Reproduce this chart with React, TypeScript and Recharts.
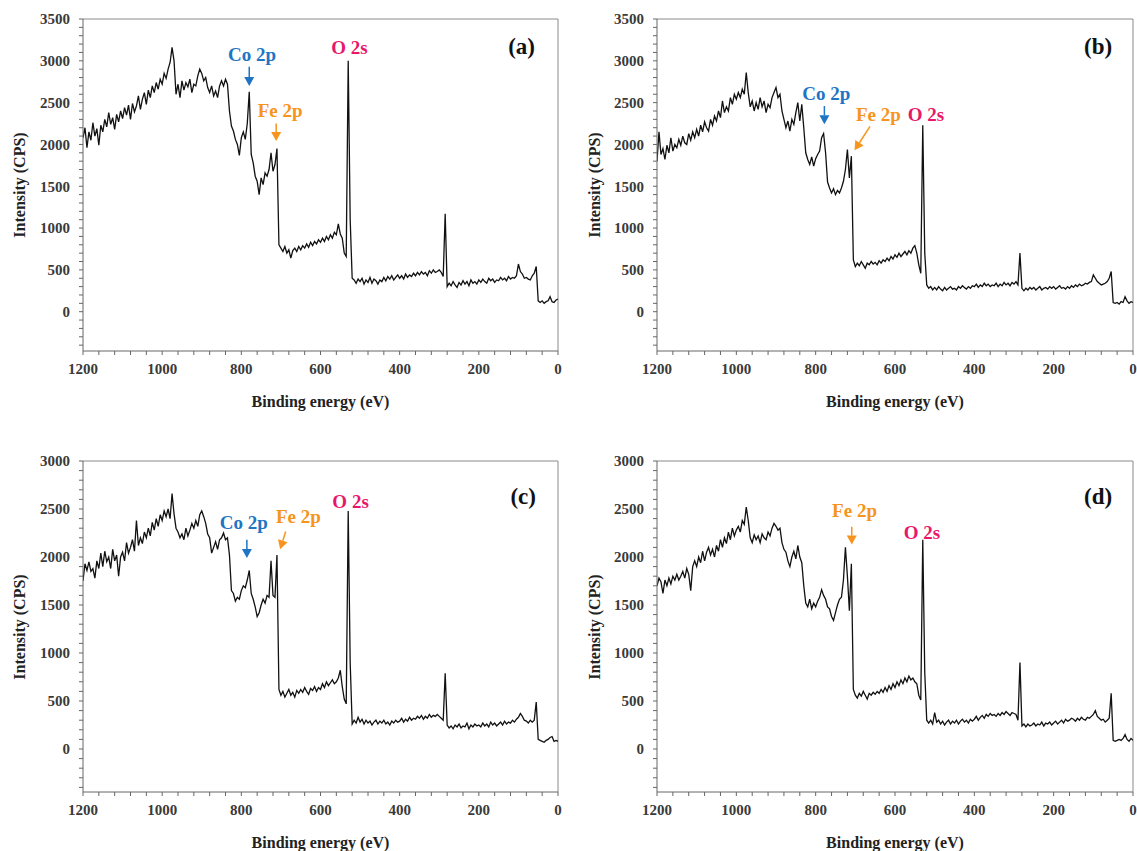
import React from 'react';
import { LineChart, Line, XAxis, YAxis, ReferenceLine, ReferenceDot } from 'recharts';

// Binding energy grid (eV)
const energy = [
  1200, 1195, 1190, 1185, 1180, 1175, 1170, 1165, 1160, 1155,
  1150, 1145, 1140, 1135, 1130, 1125, 1120, 1115, 1110, 1105,
  1100, 1095, 1090, 1085, 1080, 1075, 1070, 1065, 1060, 1055,
  1050, 1045, 1040, 1035, 1030, 1025, 1020, 1015, 1010, 1005,
  1000, 995, 990, 985, 980, 975, 970, 965, 960, 955,
  950, 945, 940, 935, 930, 925, 920, 915, 910, 905,
  900, 895, 890, 885, 880, 875, 870, 865, 860, 855,
  850, 845, 840, 835, 830, 825, 820, 815, 810, 805,
  800, 795, 790, 785, 780, 775, 770, 765, 760, 755,
  750, 745, 740, 735, 730, 725, 720, 715, 710, 705,
  700, 695, 690, 685, 680, 675, 670, 665, 660, 655,
  650, 645, 640, 635, 630, 625, 620, 615, 610, 605,
  600, 595, 590, 585, 580, 575, 570, 565, 560, 555,
  550, 545, 540, 535, 530, 525, 520, 515, 510, 505,
  500, 495, 490, 485, 480, 475, 470, 465, 460, 455,
  450, 445, 440, 435, 430, 425, 420, 415, 410, 405,
  400, 395, 390, 385, 380, 375, 370, 365, 360, 355,
  350, 345, 340, 335, 330, 325, 320, 315, 310, 305,
  300, 295, 290, 285, 280, 275, 270, 265, 260, 255,
  250, 245, 240, 235, 230, 225, 220, 215, 210, 205,
  200, 195, 190, 185, 180, 175, 170, 165, 160, 155,
  150, 145, 140, 135, 130, 125, 120, 115, 110, 105,
  100, 95, 90, 85, 80, 75, 70, 65, 60, 55,
  50, 45, 40, 35, 30, 25, 20, 15, 10, 5,
  0,
];

// Intensity (CPS), panel (a)
const intensityA = [
  2080, 2200, 1960, 2150, 2050, 2260, 2100, 2190, 1990, 2230,
  2150, 2300, 2210, 2380, 2240, 2320, 2180, 2360, 2270, 2400,
  2310, 2440, 2350, 2470, 2300, 2490, 2390, 2460, 2580, 2420,
  2540, 2620, 2480, 2650, 2560, 2700, 2620, 2740, 2660, 2780,
  2720, 2850, 2790, 2900, 2980, 3160, 3000, 2600, 2720, 2560,
  2760, 2650, 2740, 2690, 2780, 2620, 2720, 2700, 2820, 2900,
  2850, 2760, 2800, 2680, 2620, 2700, 2580, 2640, 2560, 2700,
  2760, 2700, 2780, 2720, 2400, 2220, 2160, 2060, 2000, 1870,
  2080, 2150, 2060, 2250, 2630, 1880, 1780, 1620, 1560, 1400,
  1600, 1520, 1660, 1620, 1700, 1900, 1680, 1760, 1950, 800,
  760, 720, 780, 700, 740, 640, 730, 760, 720, 780,
  740, 790, 760, 810, 770, 830, 790, 840, 810, 860,
  830, 880, 840, 900, 860, 920, 880, 950, 920, 1050,
  930, 880, 700, 660, 3000, 1100, 400, 380, 340, 390,
  360, 400, 330, 380, 350, 410, 340, 390, 370, 330,
  380, 360, 410, 370, 420, 390, 430, 380, 410, 440,
  400, 430, 390, 450, 410, 440, 420, 460, 430, 470,
  440, 480, 450, 470, 430, 490, 460, 500, 470, 480,
  500, 470, 420, 1170, 300, 340, 310, 360, 320, 290,
  350, 320, 370, 330, 360, 310, 380, 340, 360, 330,
  380, 350, 390, 360, 340, 400, 370, 390, 350, 380,
  370, 410, 380, 400, 370, 420, 390, 410, 400, 430,
  570, 480, 450, 400, 410, 390, 380, 430, 460, 540,
  130, 110, 130, 100, 120, 130, 180, 120, 110, 140,
  150,
];

// Intensity (CPS), panel (b)
const intensityB = [
  1800, 2150, 1880, 1950, 1820, 1990, 1900, 2080, 1920, 2000,
  1960, 2060, 1990, 2100, 2020, 2000, 2130, 2050, 2150, 2080,
  2180, 2100, 2230, 2150, 2270, 2200, 2160, 2300, 2230, 2340,
  2280, 2400, 2320, 2520, 2380, 2450, 2400, 2560, 2480, 2600,
  2540, 2620, 2560, 2660, 2600, 2860, 2620, 2450, 2520, 2400,
  2500, 2420, 2560, 2450, 2520, 2380, 2480, 2440, 2560, 2620,
  2680, 2560, 2600, 2400, 2300, 2200, 2280, 2160, 2300, 2240,
  2380, 2500, 2280, 2480, 2200, 1900, 1820, 1760, 1850, 1740,
  1830, 1880, 1920, 2080, 2130, 1900, 1550, 1480, 1420, 1470,
  1400, 1450, 1420, 1480, 1560, 1700, 1940, 1600, 1860, 620,
  540, 580, 550, 600, 560, 520, 580, 560, 600, 570,
  590, 560, 610, 580, 620, 600, 640, 610, 660, 630,
  680, 650, 700, 660, 690, 720, 680, 730, 700, 760,
  790, 700, 560, 460, 2230, 700, 320, 280, 300, 260,
  290, 260, 300, 270, 250, 290, 260, 280, 300, 270,
  280, 260, 300, 280, 310, 290, 270, 300, 280, 310,
  300, 330, 290, 320, 300, 340, 310, 330, 300, 320,
  310, 340, 300, 330, 310, 350, 320, 340, 310, 350,
  330, 360, 320, 700, 280, 250, 280, 260, 290, 270,
  290, 260, 280, 300, 260, 280, 290, 270, 300, 280,
  300, 270, 290, 310, 280, 290, 270, 300, 280, 310,
  290, 320, 300, 330, 310, 320, 340, 330, 350, 360,
  440, 400, 360, 340, 320, 330, 340, 360, 400, 480,
  110, 100, 110, 90, 120, 110, 180, 130, 100, 120,
  110,
];

// Intensity (CPS), panel (c)
const intensityC = [
  1750, 1930, 1860, 1950, 1850, 1880, 1780, 1960, 1880, 2040,
  1900, 2060, 1950, 2000, 1880, 2080, 1960, 2020, 1800, 2000,
  2050, 1960, 2150, 2040, 2100, 2180, 2060, 2380, 2120, 2200,
  2140, 2260, 2200, 2300, 2220, 2360, 2280, 2400, 2320, 2440,
  2380, 2480, 2420, 2500, 2400, 2660, 2450, 2300, 2260, 2200,
  2240, 2180, 2300, 2220, 2280, 2350, 2300, 2380, 2320, 2440,
  2480, 2420, 2350, 2240, 2200, 2040, 2100, 2160, 2080, 2180,
  2200, 2250, 2180, 2200, 2020, 1650, 1620, 1540, 1580, 1560,
  1650, 1700, 1680, 1760, 1860, 1620, 1560, 1480, 1380, 1420,
  1500, 1560, 1520, 1600, 1580, 1960, 1600, 1580, 2020, 620,
  560, 600, 540, 580, 620, 560, 590, 540, 610, 580,
  620, 590, 640, 600, 570, 630, 610, 650, 600, 640,
  620, 680, 640, 700, 660, 690, 720, 680, 700, 740,
  820, 650, 520, 470, 2480, 900, 260, 300, 270, 330,
  280, 310, 260, 300, 270, 290, 250, 280, 300, 260,
  290, 270, 300, 260, 280, 250, 290, 270, 300, 280,
  290, 320, 280, 310, 290, 330, 300, 320, 310, 340,
  320, 350, 310, 340, 320, 360, 330, 350, 340, 360,
  340, 320, 300, 790, 250, 220, 240, 210, 250, 230,
  260, 220, 240, 230, 270, 210, 250, 230, 260, 240,
  250, 230, 270, 240, 260, 230, 280, 250, 270, 240,
  260, 280, 250, 290, 260, 280, 270, 300, 280, 310,
  330, 370, 340, 300, 290, 270, 300, 280, 300, 490,
  100, 90, 80, 70, 90, 100, 120, 130, 80, 90,
  80,
];

// Intensity (CPS), panel (d)
const intensityD = [
  1700, 1780, 1740, 1620, 1760, 1700, 1780, 1720, 1800, 1760,
  1820, 1760, 1800, 1850, 1780, 1880, 1820, 1650, 1900, 1960,
  1900, 2000, 1940, 2060, 1960, 2050, 2100, 2020, 2080, 2000,
  2120, 2060, 2180, 2100, 2200, 2140, 2260, 2180, 2300, 2220,
  2280, 2320, 2260, 2380, 2340, 2520, 2380, 2200, 2150, 2230,
  2180, 2220, 2150, 2240, 2200, 2180, 2260, 2220, 2300, 2350,
  2320, 2280, 2300, 2150, 2080, 2050, 1960, 1900, 2000, 2060,
  1980, 2120, 2000, 1940, 1700, 1520, 1480, 1560, 1460, 1520,
  1480, 1540, 1580, 1660, 1600, 1560, 1480, 1460, 1380, 1340,
  1420, 1500, 1560, 1580, 1760, 2100, 1800, 1440, 1930, 620,
  560, 530, 580, 550, 600, 560, 520, 580, 560, 590,
  570, 600, 580, 620, 590, 640, 600, 660, 620, 680,
  640, 700, 660, 720, 680, 740, 700, 760, 720, 740,
  700, 680, 560, 510, 2180, 800, 300, 270, 300, 260,
  380, 280, 300, 260, 290, 250, 280, 300, 260, 290,
  270, 300, 260, 290, 310, 280, 300, 270, 310, 290,
  310, 340, 300, 330, 350, 320, 360, 340, 370, 350,
  360, 340, 370, 350, 380, 360, 390, 370, 350, 380,
  370, 360, 300, 900, 240, 260, 230, 260, 240, 250,
  270, 240, 260, 250, 280, 240, 270, 260, 280, 250,
  270, 290, 260, 280, 300, 270, 310, 290, 300, 320,
  310, 290, 320, 300, 330, 310, 300, 330, 320, 340,
  360, 400, 340, 320, 300, 310, 280, 300, 320, 580,
  90, 80, 90, 100, 90, 110, 150, 100, 80, 110,
  90,
];

// Axis ticks
const xTicks = [0, 40, 80, 120, 160, 200, 240, 280, 320, 360, 400, 440, 480, 520, 560, 600, 640, 680, 720, 760, 800, 840, 880, 920, 960, 1000, 1040, 1080, 1120, 1160, 1200];
const yTicksTop = [-400, -300, -200, -100, 0, 100, 200, 300, 400, 500, 600, 700, 800, 900, 1000, 1100, 1200, 1300, 1400, 1500, 1600, 1700, 1800, 1900, 2000, 2100, 2200, 2300, 2400, 2500, 2600, 2700, 2800, 2900, 3000, 3100, 3200, 3300, 3400, 3500];
const yTicksBottom = [-400, -300, -200, -100, 0, 100, 200, 300, 400, 500, 600, 700, 800, 900, 1000, 1100, 1200, 1300, 1400, 1500, 1600, 1700, 1800, 1900, 2000, 2100, 2200, 2300, 2400, 2500, 2600, 2700, 2800, 2900, 3000];

const CO = '#1f74c4';
const FE = '#f7941d';
const OX = '#e8176a';

type Note = { text: string; color: string; x: number; y: number; size: number };
type Arrow = { color: string; x1: number; y1: number; x2: number; y2: number };

const notesA: Note[] = [
  { text: 'Co 2p', color: CO, x: 773, y: 3070, size: 19 },
  { text: 'Fe 2p', color: FE, x: 702, y: 2400, size: 19 },
  { text: 'O 2s', color: OX, x: 527, y: 3165, size: 19 },
  { text: '(a)', color: '#111', x: 92, y: 3170, size: 23 },
];
const arrowsA: Arrow[] = [
  { color: CO, x1: 780, y1: 2930, x2: 780, y2: 2700 },
  { color: FE, x1: 712, y1: 2250, x2: 712, y2: 2040 },
];
const notesB: Note[] = [
  { text: 'Co 2p', color: CO, x: 773, y: 2610, size: 19 },
  { text: 'Fe 2p', color: FE, x: 642, y: 2360, size: 19 },
  { text: 'O 2s', color: OX, x: 522, y: 2360, size: 19 },
  { text: '(b)', color: '#111', x: 88, y: 3170, size: 23 },
];
const arrowsB: Arrow[] = [
  { color: CO, x1: 778, y1: 2460, x2: 778, y2: 2240 },
  { color: FE, x1: 663, y1: 2215, x2: 702, y2: 1930 },
];
const notesC: Note[] = [
  { text: 'Co 2p', color: CO, x: 794, y: 2360, size: 19 },
  { text: 'Fe 2p', color: FE, x: 656, y: 2420, size: 19 },
  { text: 'O 2s', color: OX, x: 524, y: 2580, size: 19 },
  { text: '(c)', color: '#111', x: 88, y: 2630, size: 23 },
];
const arrowsC: Arrow[] = [
  { color: CO, x1: 786, y1: 2180, x2: 786, y2: 1990 },
  { color: FE, x1: 688, y1: 2265, x2: 702, y2: 2080 },
];
const notesD: Note[] = [
  { text: 'Fe 2p', color: FE, x: 702, y: 2488, size: 19 },
  { text: 'O 2s', color: OX, x: 532, y: 2260, size: 19 },
  { text: '(d)', color: '#111', x: 88, y: 2630, size: 23 },
];
const arrowsD: Arrow[] = [
  { color: FE, x1: 709, y1: 2315, x2: 709, y2: 2130 },
];

const table = energy.map((e, i) => ({
  energy: e,
  a: intensityA[i],
  b: intensityB[i],
  c: intensityC[i],
  d: intensityD[i],
}));

const FONT = '"Liberation Serif", "Times New Roman", Times, serif';

function arrowShape(color: string) {
  return (p: any) => {
    const { x1, y1, x2, y2 } = p;
    const ang = Math.atan2(y2 - y1, x2 - x1);
    const L = 9;
    const W = 5;
    const bx = x2 - L * Math.cos(ang);
    const by = y2 - L * Math.sin(ang);
    const px = -Math.sin(ang) * W;
    const py = Math.cos(ang) * W;
    return (
      <g>
        <line x1={x1} y1={y1} x2={bx} y2={by} stroke={color} strokeWidth={1.5} />
        <polygon points={`${x2},${y2} ${bx + px},${by + py} ${bx - px},${by - py}`} fill={color} />
      </g>
    );
  };
}

function noteShape(n: Note) {
  return (p: any) => (
    <text
      x={p.cx}
      y={p.cy}
      textAnchor="middle"
      dominantBaseline="central"
      fill={n.color}
      style={{ fontFamily: FONT, fontWeight: 'bold', fontSize: n.size }}
    >
      {n.text}
    </text>
  );
}

type Panel = {
  key: 'a' | 'b' | 'c' | 'd';
  left: number;
  top: number;
  width: number;
  height: number;
  yAxisW: number;
  mRight: number;
  mTop: number;
  xAxisH: number;
  yMin: number;
  yMax: number;
  yTicks: number[];
  notes: Note[];
  arrows: Arrow[];
};

const panels: Panel[] = [
  { key: 'a', left: 0, top: 0, width: 570, height: 430, yAxisW: 83, mRight: 12, mTop: 19, xAxisH: 79, yMin: -470, yMax: 3500, yTicks: yTicksTop, notes: notesA, arrows: arrowsA },
  { key: 'b', left: 570, top: 0, width: 567, height: 430, yAxisW: 87, mRight: 4, mTop: 19, xAxisH: 79, yMin: -470, yMax: 3500, yTicks: yTicksTop, notes: notesB, arrows: arrowsB },
  { key: 'c', left: 0, top: 430, width: 570, height: 421, yAxisW: 83, mRight: 12, mTop: 31, xAxisH: 59, yMin: -448, yMax: 3000, yTicks: yTicksBottom, notes: notesC, arrows: arrowsC },
  { key: 'd', left: 570, top: 430, width: 567, height: 421, yAxisW: 87, mRight: 4, mTop: 31, xAxisH: 59, yMin: -448, yMax: 3000, yTicks: yTicksBottom, notes: notesD, arrows: arrowsD },
];

const tickStyle = { fontSize: 15, fill: '#3a3a3a', fontFamily: FONT, fontWeight: 'bold' };
const titleStyle: React.CSSProperties = {
  position: 'absolute',
  fontFamily: FONT,
  fontWeight: 'bold',
  fontSize: 16,
  color: '#222',
  whiteSpace: 'nowrap',
  lineHeight: '18px',
};

function PanelChart({ p }: { p: Panel }) {
  const plotLeft = p.yAxisW;
  const plotRight = p.width - p.mRight;
  const plotTop = p.mTop;
  const plotBottom = p.height - p.xAxisH;
  const cx = p.left + (plotLeft + plotRight) / 2;
  const cy = p.top + (plotTop + plotBottom) / 2;
  return (
    <div style={{ position: 'absolute', left: p.left, top: p.top, width: p.width, height: p.height, fontFamily: FONT }}>
      <LineChart
        width={p.width}
        height={p.height}
        data={table}
        margin={{ top: p.mTop, right: p.mRight, bottom: 0, left: 0 }}
        style={{ fontFamily: FONT }}
      >
        <XAxis
          dataKey="energy"
          type="number"
          domain={[0, 1200]}
          reversed
          ticks={xTicks}
          interval={0}
          height={p.xAxisH}
          tickSize={4}
          tickMargin={8}
          tick={tickStyle}
          tickFormatter={(v: number) => (v % 200 === 0 ? String(v) : '')}
          stroke="#666"
          allowDataOverflow
        />
        <YAxis
          type="number"
          domain={[p.yMin, p.yMax]}
          ticks={p.yTicks}
          interval={0}
          width={p.yAxisW}
          tickSize={4}
          tickMargin={9}
          tick={tickStyle}
          tickFormatter={(v: number) => (v % 500 === 0 && v >= 0 ? String(v) : '')}
          stroke="#666"
          allowDataOverflow
        />
        <ReferenceLine y={p.yMax} stroke="#8a8a8a" strokeWidth={1} />
        <ReferenceLine x={0} stroke="#8a8a8a" strokeWidth={1} />
        <Line
          dataKey={p.key}
          type="linear"
          stroke="#111"
          strokeWidth={1.3}
          dot={false}
          isAnimationActive={false}
        />
        {p.arrows.map((a, i) => (
          <ReferenceLine
            key={`ar${i}`}
            segment={[{ x: a.x1, y: a.y1 }, { x: a.x2, y: a.y2 }]}
            stroke={a.color}
            shape={arrowShape(a.color)}
          />
        ))}
        {p.notes.map((n, i) => (
          <ReferenceDot key={`n${i}`} x={n.x} y={n.y} r={1} shape={noteShape(n)} />
        ))}
      </LineChart>
      <div
        style={{
          ...titleStyle,
          left: cx - p.left - 150,
          width: 300,
          textAlign: 'center',
          top: plotBottom + 42,
        }}
      >
        Binding energy (eV)
      </div>
      <div
        style={{
          ...titleStyle,
          left: p.key === 'a' || p.key === 'c' ? 19.5 : 25,
          top: cy - p.top,
          transform: 'translate(-50%, -50%) rotate(-90deg)',
        }}
      >
        Intensity (CPS)
      </div>
    </div>
  );
}

export default function App() {
  return (
    <div style={{ position: 'absolute', left: 0, top: 0, width: 1137, height: 851, background: '#fff', overflow: 'hidden' }}>
      {panels.map((p) => (
        <PanelChart key={p.key} p={p} />
      ))}
    </div>
  );
}
